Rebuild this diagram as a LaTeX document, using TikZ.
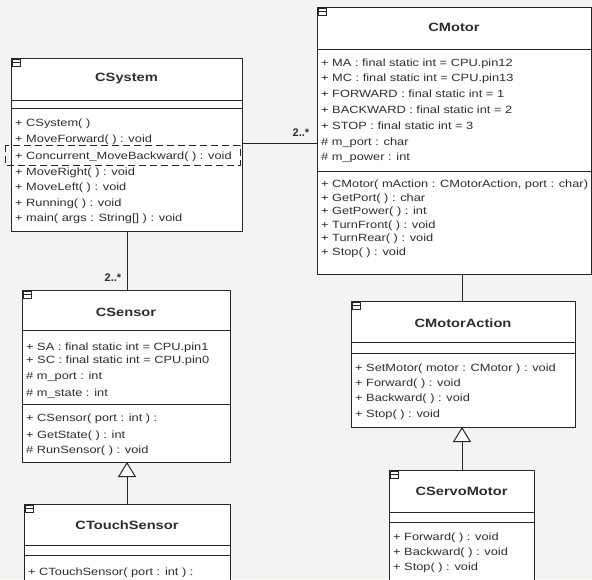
\documentclass[tikz,border=0pt]{standalone}
\usepackage{fontspec}
\setmainfont{Liberation Sans}
\newfontfamily\umlfont[FakeStretch=1.22]{Liberation Sans}
\usetikzlibrary{arrows.meta}
\definecolor{bgc}{HTML}{F3F3F1}
\definecolor{linec}{HTML}{262626}
\definecolor{txtc}{HTML}{2E2E2E}
\begin{document}
\begin{tikzpicture}[x=1pt,y=-1pt,
  classbox/.style={draw=linec, fill=white, line width=1pt, inner sep=0, anchor=north west},
  sepline/.style={draw=linec, line width=0.9pt},
  cname/.style={font=\umlfont\fontsize{12}{14}\bfseries\selectfont, text=txtc, inner sep=0},
  member/.style={font=\umlfont\fontsize{10.5}{12}\selectfont, text=txtc, anchor=base west, inner sep=0},
  mult/.style={font=\fontsize{11}{13}\bfseries\selectfont, text=txtc, inner sep=0},
  conn/.style={draw=linec, line width=1pt},
  gen/.style={conn, -{Triangle[open, length=15pt, width=18pt, line width=1pt, fill=white]}},
  icon/.style={draw=linec, line width=0.6pt, fill=white}
]
\useasboundingbox (0,0) rectangle (592,579);
\clip (0,0) rectangle (592,579);
\fill[bgc] (0,0) rectangle (592,579);

% ---------- CSystem ----------
\node[classbox, minimum width=231pt, minimum height=173pt] (csys) at (11,58) {};
\draw[sepline] (11,100) -- (242,100);
\draw[sepline] (11,108) -- (242,108);
\draw[icon] (12,59) rectangle (20,66); \draw[linec, line width=0.5pt] (12,62.5) -- (20,62.5);
\node[cname] (csys-name) at (126.5,79) {CSystem};
\foreach \t/\yy [count=\i] in {{+ CSystem( )}/126.5, {+ MoveForward( ) : void}/142, {+ Concurrent\_MoveBackward( ) : void}/159, {+ MoveRight( ) : void}/175.5, {+ MoveLeft( ) : void}/190.5, {+ Running( ) : void}/206, {+ main( args : String[] ) : void}/221.5}
  \node[member] (csys-m\i) at (15,\yy) {\t};
\draw[linec, line width=0.9pt, dash pattern=on 7pt off 4pt] (5,145) rectangle (240,165);

% ---------- CMotor ----------
\node[classbox, minimum width=274pt, minimum height=267pt] (cmot) at (317,7) {};
\draw[sepline] (317,49) -- (591,49);
\draw[sepline] (317,171) -- (591,171);
\draw[icon] (318,8) rectangle (326,15); \draw[linec, line width=0.5pt] (318,11.5) -- (326,11.5);
\node[cname] (cmot-name) at (454,27) {CMotor};
\foreach \t/\yy [count=\i] in {{+ MA : final static int = CPU.pin12}/66, {+ MC : final static int = CPU.pin13}/81.5, {+ FORWARD : final static int = 1}/97, {+ BACKWARD : final static int = 2}/113, {+ STOP : final static int = 3}/129, {\# m\_port : char}/145, {\# m\_power : int}/160.5}
  \node[member] (cmot-a\i) at (321,\yy) {\t};
\foreach \t/\yy [count=\i] in {{+ CMotor( mAction : CMotorAction, port : char)}/187.5, {+ GetPort( ) : char}/201, {+ GetPower( ) : int}/214.5, {+ TurnFront( ) : void}/228, {+ TurnRear( ) : void}/241.5, {+ Stop( ) : void}/255}
  \node[member] (cmot-m\i) at (321,\yy) {\t};

% ---------- CMotorAction ----------
\node[classbox, minimum width=224pt, minimum height=126pt] (cact) at (351,301) {};
\draw[sepline] (351,342) -- (575,342);
\draw[sepline] (351,353) -- (575,353);
\draw[icon] (352,302) rectangle (360,309); \draw[linec, line width=0.5pt] (352,305.5) -- (360,305.5);
\node[cname] (cact-name) at (463,323) {CMotorAction};
\foreach \t/\yy [count=\i] in {{+ SetMotor( motor : CMotor ) : void}/371.5, {+ Forward( ) : void}/386.5, {+ Backward( ) : void}/401.5, {+ Stop( ) : void}/417}
  \node[member] (cact-m\i) at (355,\yy) {\t};

% ---------- CServoMotor ----------
\node[classbox, minimum width=145pt, minimum height=130pt] (cservo) at (389,470) {};
\draw[sepline] (389,512) -- (534,512);
\draw[sepline] (389,522) -- (534,522);
\draw[icon] (390,471) rectangle (398,478); \draw[linec, line width=0.5pt] (390,474.5) -- (398,474.5);
\node[cname] (cservo-name) at (461.5,491) {CServoMotor};
\foreach \t/\yy [count=\i] in {{+ Forward( ) : void}/540.5, {+ Backward( ) : void}/555.5, {+ Stop( ) : void}/570.5}
  \node[member] (cservo-m\i) at (393,\yy) {\t};

% ---------- CSensor ----------
\node[classbox, minimum width=208pt, minimum height=172pt] (csen) at (22,290) {};
\draw[sepline] (22,330) -- (230,330);
\draw[sepline] (22,404) -- (230,404);
\draw[icon] (23,291) rectangle (31,298); \draw[linec, line width=0.5pt] (23,294.5) -- (31,294.5);
\node[cname] (csen-name) at (126,312) {CSensor};
\foreach \t/\yy [count=\i] in {{+ SA : final static int = CPU.pin1}/350.5, {+ SC : final static int = CPU.pin0}/363.5, {\# m\_port : int}/379.5, {\# m\_state : int}/396}
  \node[member] (csen-a\i) at (26,\yy) {\t};
\foreach \t/\yy [count=\i] in {{+ CSensor( port : int ) :}/421.5, {+ GetState( ) : int}/438, {\# RunSensor( ) : void}/453.5}
  \node[member] (csen-m\i) at (26,\yy) {\t};

% ---------- CTouchSensor ----------
\node[classbox, minimum width=206pt, minimum height=100pt] (ctouch) at (24,504) {};
\draw[sepline] (24,545) -- (230,545);
\draw[sepline] (24,555) -- (230,555);
\draw[icon] (25,505) rectangle (33,512); \draw[linec, line width=0.5pt] (25,508.5) -- (33,508.5);
\node[cname] (ctouch-name) at (127,525) {CTouchSensor};
\node[member] (ctouch-m1) at (28,575.5) {+ CTouchSensor( port : int ) :};

% ---------- connectors ----------
\coordinate (sysR) at (242,143);
\coordinate (motL) at (317,143);
\draw[conn] (sysR) -- (motL);
\node[mult] (mult1) at (301,133) {2..*};

\coordinate (sysB) at (127,231);
\coordinate (senT) at (127,290);
\draw[conn] (sysB) -- (senT);
\node[mult] (mult2) at (113,278) {2..*};

\coordinate (motB) at (462,274);
\coordinate (actT) at (462,301);
\draw[conn] (motB) -- (actT);

\coordinate (servoT) at (462,470);
\coordinate (actB) at (462,427);
\draw[gen] (servoT) -- (actB);

\coordinate (touchT) at (127,504);
\coordinate (senB) at (127,462);
\draw[gen] (touchT) -- (senB);
\end{tikzpicture}
\end{document}
